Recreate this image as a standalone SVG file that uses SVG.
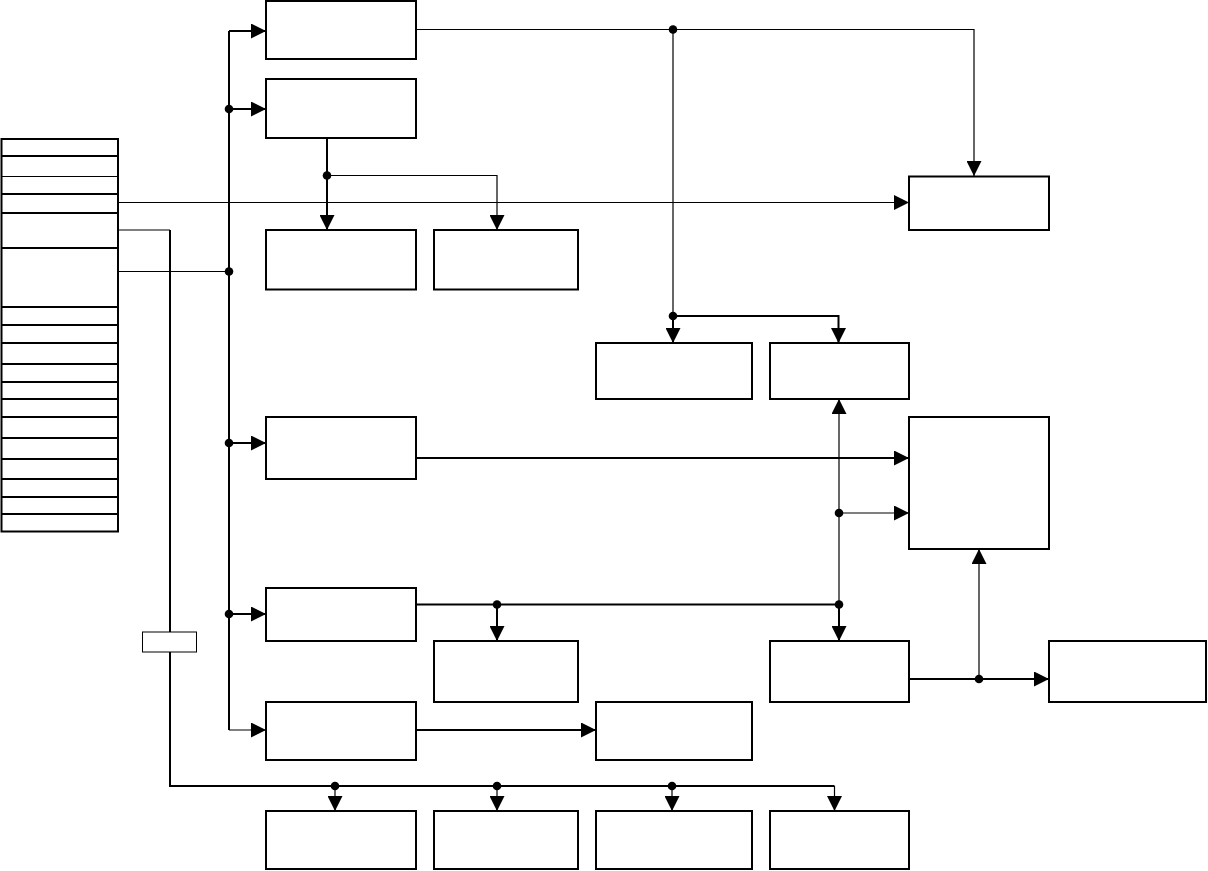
<svg xmlns="http://www.w3.org/2000/svg" width="1208" height="871" viewBox="0 0 1208 871">
<style>
.box{fill:#fff;stroke:#000;stroke-width:2}
.sm{fill:#fff;stroke:#000;stroke-width:1}
.w{fill:none;stroke:#000;stroke-width:2}
.t{fill:none;stroke:#000;stroke-width:1.2}
.a{marker-end:url(#ah)}
.d{fill:#000}
</style>
<defs>
<marker id="ah" markerUnits="userSpaceOnUse" markerWidth="15" markerHeight="15" refX="15" refY="7.5" orient="auto" viewBox="0 0 15 15">
<path d="M0,0 L15,7.5 L0,15 z" fill="#000"/>
</marker>
</defs>
<rect width="1208" height="871" fill="#fff"/>
<g id="connectors">
<path class="w" d="M229,31 V730"/>
<path class="w a" d="M229,31 H266"/>
<path class="w a" d="M229,109 H266"/>
<path class="w a" d="M229,443 H266"/>
<path class="w a" d="M229,614 H266"/>
<path class="t a" d="M229,730 H266"/>
<path class="t" d="M118,271.5 H229"/>
<path class="t a" d="M118,202.5 H909"/>
<path class="t" d="M118,230 H170"/>
<path class="w" d="M170,230 V786 H834.5"/>
<path class="t a" d="M335,786 V811"/>
<path class="t a" d="M497,786 V811"/>
<path class="t a" d="M672,786 V811"/>
<path class="t a" d="M834.5,786 V811"/>
<path class="t a" d="M416,29.5 H974 V176"/>
<path class="t" d="M673,29.5 V316"/>
<path class="w a" d="M673,316 V343"/>
<path class="w a" d="M673,316 H838.5 V343"/>
<path class="w a" d="M327,138 V230"/>
<path class="t a" d="M327,175.5 H497 V230"/>
<path class="w a" d="M416,458 H909"/>
<path class="w" d="M416,604.5 H839"/>
<path class="w a" d="M497,604.5 V641"/>
<path class="w a" d="M839,604.5 V641"/>
<path class="t a" d="M839,604.5 V399"/>
<path class="t a" d="M839,513 H909"/>
<path class="w a" d="M416,730 H596"/>
<path class="w a" d="M909,679 H1049"/>
<path class="t a" d="M979,679 V549"/>
<circle class="d" cx="229" cy="109" r="4.3"/>
<circle class="d" cx="229" cy="271.5" r="4.3"/>
<circle class="d" cx="229" cy="443" r="4.3"/>
<circle class="d" cx="229" cy="614" r="4.3"/>
<circle class="d" cx="335" cy="786" r="4.3"/>
<circle class="d" cx="497" cy="786" r="4.3"/>
<circle class="d" cx="672" cy="786" r="4.3"/>
<circle class="d" cx="673" cy="29.5" r="4.3"/>
<circle class="d" cx="673" cy="316" r="4.3"/>
<circle class="d" cx="327" cy="175.5" r="4.3"/>
<circle class="d" cx="497" cy="604.5" r="4.3"/>
<circle class="d" cx="839" cy="604.5" r="4.3"/>
<circle class="d" cx="839" cy="513" r="4.3"/>
<circle class="d" cx="979" cy="679" r="4.3"/>
</g>
<g id="table">
<rect class="box" x="1.5" y="139" width="116.5" height="392.5"/>
<path class="w" d="M1.5,156 H118 M1.5,194 H118 M1.5,213 H118 M1.5,248 H118 M1.5,307 H118 M1.5,325 H118 M1.5,343 H118 M1.5,364 H118 M1.5,382 H118 M1.5,399 H118 M1.5,417 H118 M1.5,438 H118 M1.5,459 H118 M1.5,479 H118 M1.5,497 H118 M1.5,514 H118"/>
<path class="t" d="M1.5,176.5 H118"/>
</g>
<g id="small"><rect class="sm" x="142.5" y="632" width="54" height="20"/></g>
<g id="b1"><rect class="box" x="266" y="1" width="150" height="58"/></g>
<g id="b2"><rect class="box" x="266" y="79" width="150" height="59"/></g>
<g id="b3"><rect class="box" x="266" y="230" width="150" height="59.5"/></g>
<g id="b4"><rect class="box" x="434" y="230" width="144" height="59.5"/></g>
<g id="b5"><rect class="box" x="266" y="417" width="150" height="62"/></g>
<g id="b6"><rect class="box" x="266" y="588" width="150" height="53"/></g>
<g id="b7"><rect class="box" x="266" y="702" width="150" height="58"/></g>
<g id="b8"><rect class="box" x="909" y="176.5" width="140" height="53.5"/></g>
<g id="b9"><rect class="box" x="596" y="343" width="156" height="56"/></g>
<g id="b10"><rect class="box" x="770" y="343" width="139" height="56"/></g>
<g id="b11"><rect class="box" x="909" y="417" width="140" height="132"/></g>
<g id="b12"><rect class="box" x="434" y="641" width="144" height="61"/></g>
<g id="b13"><rect class="box" x="770" y="641" width="139" height="61"/></g>
<g id="b14"><rect class="box" x="1049" y="641" width="157" height="61"/></g>
<g id="b15"><rect class="box" x="596" y="702" width="156" height="58"/></g>
<g id="b16"><rect class="box" x="266" y="811" width="150" height="58"/></g>
<g id="b17"><rect class="box" x="434" y="811" width="144" height="58"/></g>
<g id="b18"><rect class="box" x="596" y="811" width="156" height="58"/></g>
<g id="b19"><rect class="box" x="770" y="811" width="139" height="58"/></g>
</svg>
